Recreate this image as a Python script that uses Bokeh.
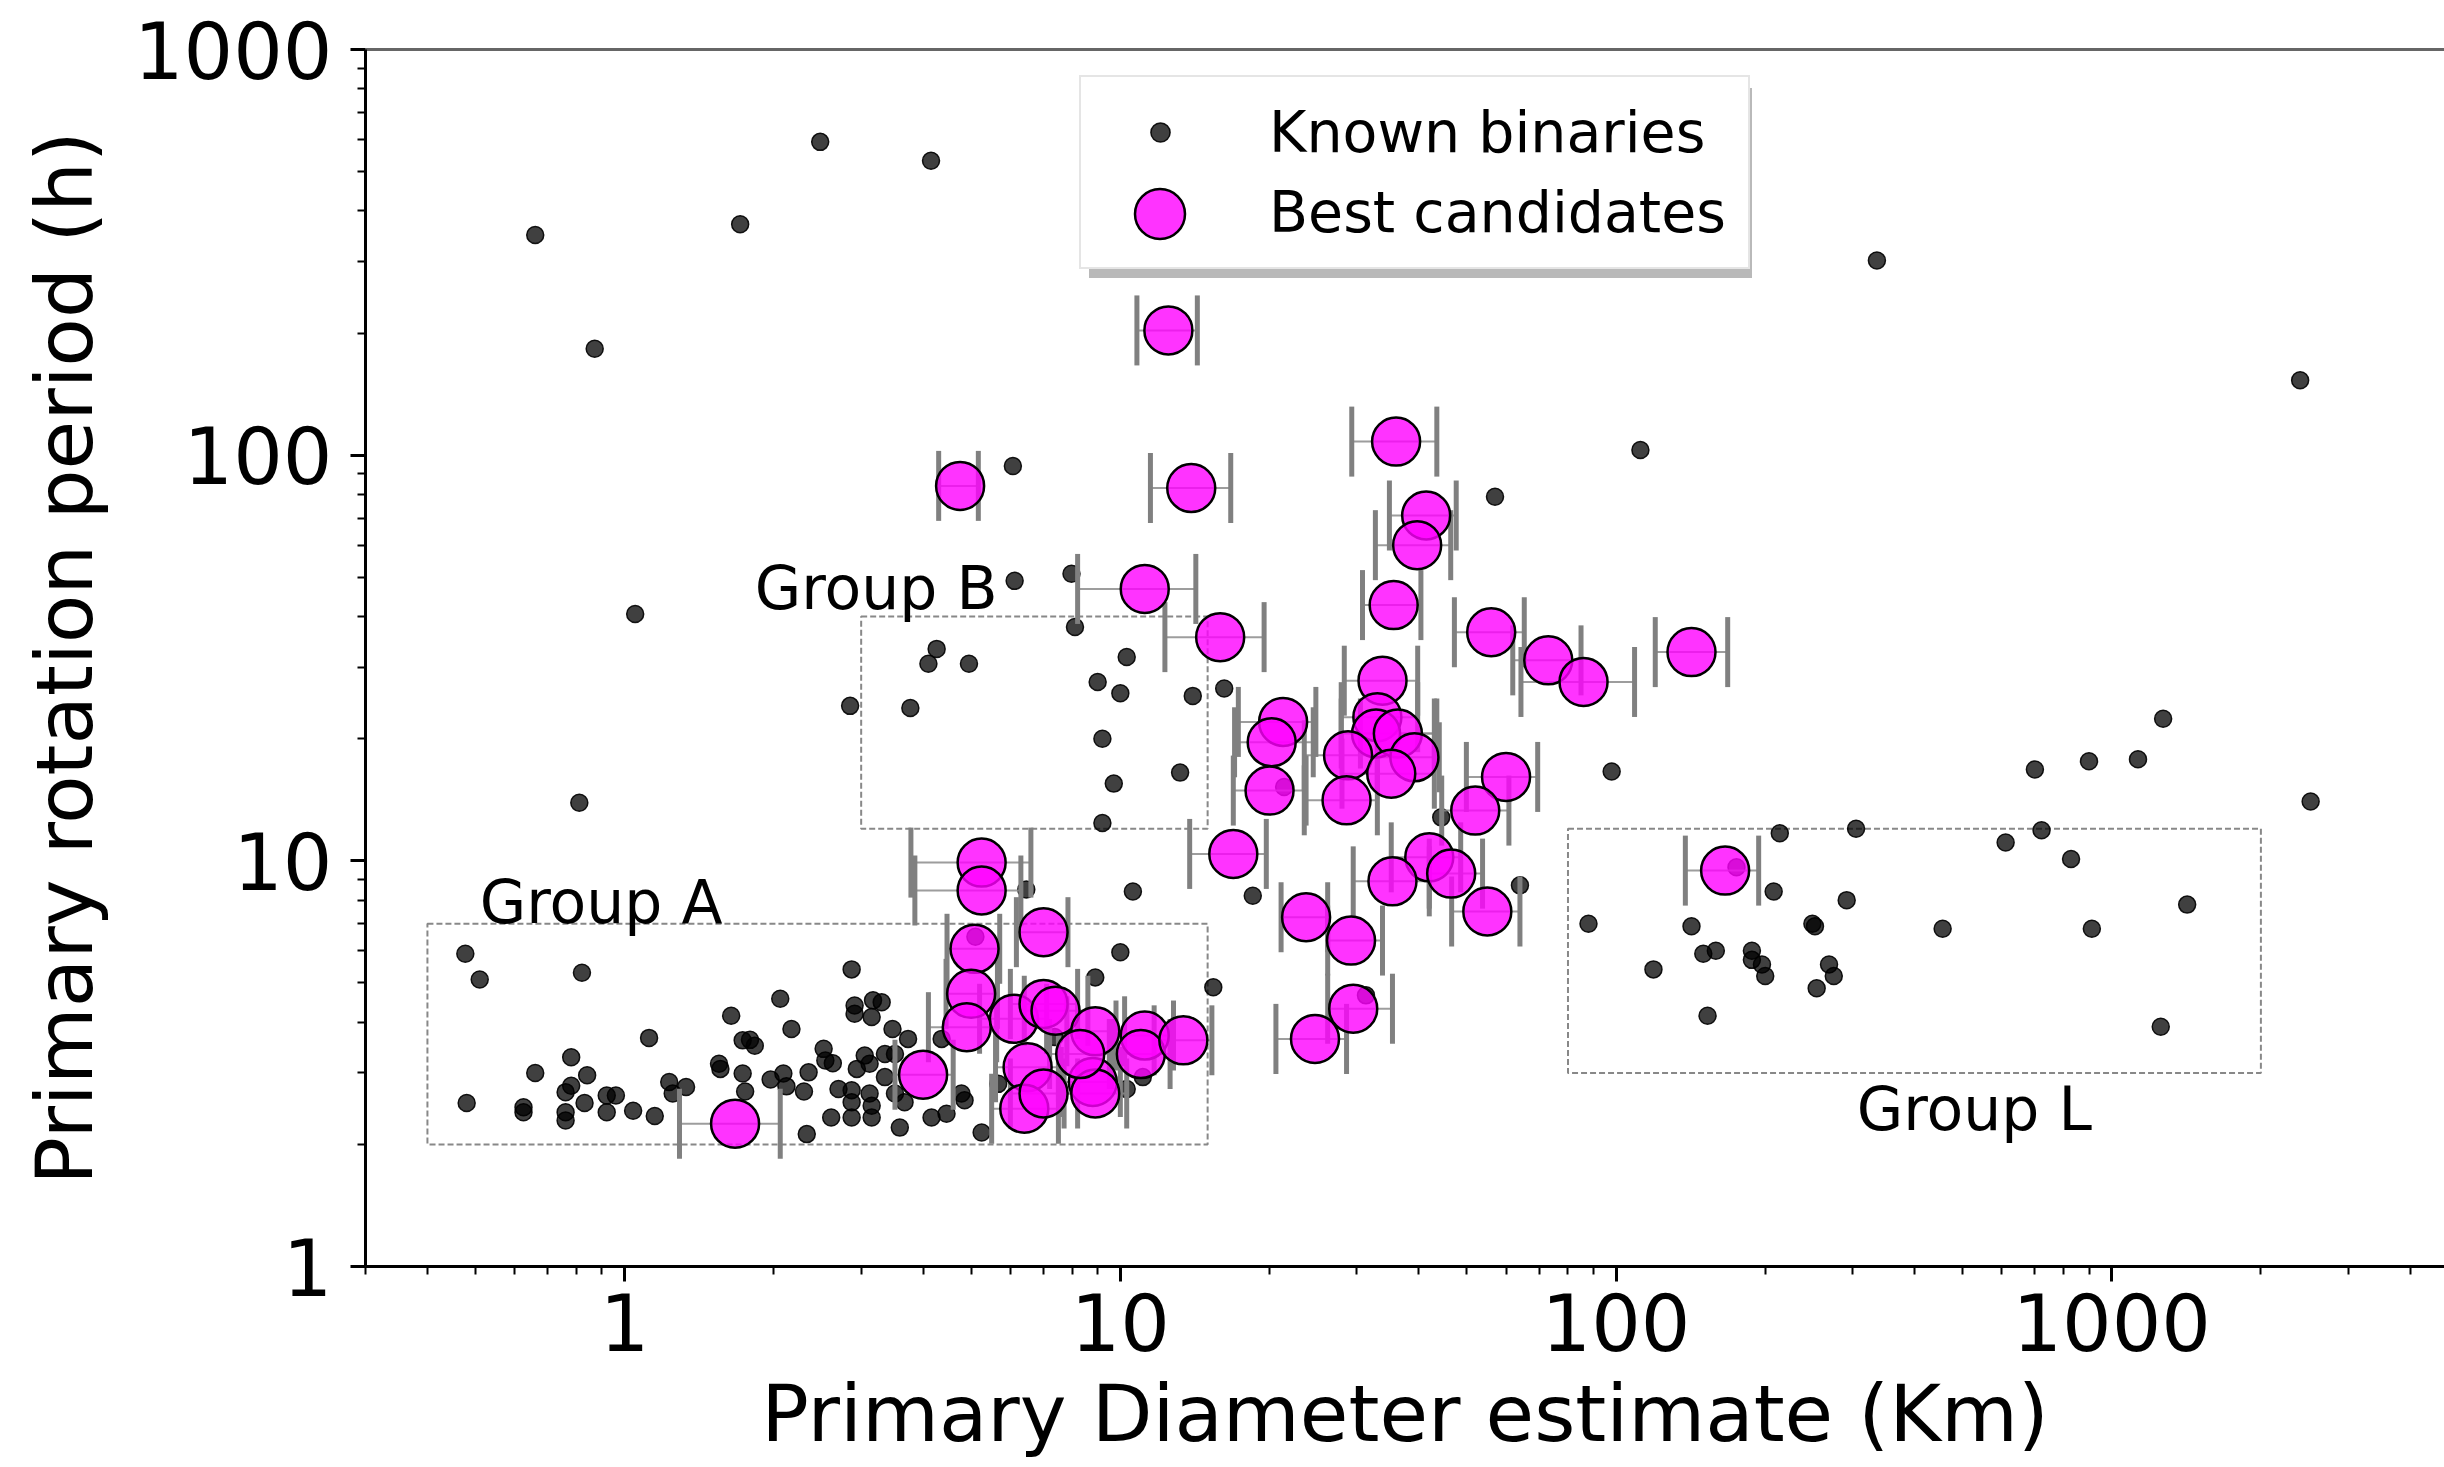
import numpy as np
from bokeh.plotting import figure
from bokeh.models import (Range1d, FixedTicker, PrintfTickFormatter, Legend, LegendItem,
                          LogAxis)
from bokeh.core.properties import value
from bokeh.embed import file_html
from bokeh.resources import INLINE

FONT = "DejaVu Sans"

# ---------------- data ----------------
# Known binaries: primary diameter (km) and rotation period (h)
known_D = [
    # scattered / upper
    0.66, 1.71, 2.48, 4.15, 0.87, 1.05, 0.81, 6.07, 6.12, 7.97, 57, 112, 2400, 336, 98, 64, 44.4,
    31.3, 21.4, 5.1, 175,
    # group B region
    2.85, 3.77, 4.26, 4.10, 4.95, 8.1, 10.3, 9.0, 10.0, 14.0, 16.2, 9.2, 9.7, 13.2, 9.2,
    # between groups
    6.46, 10.6, 18.5, 10.0, 8.9, 15.4,
    # group L region
    1270, 700, 900, 1130, 2520, 214, 305, 722, 611, 828, 208, 292, 1420, 88, 142, 249, 252, 456,
    912, 150, 159, 188, 188, 197, 200, 119, 269, 275, 254, 153, 1256,
    # group A region
    0.477, 0.51, 0.82, 0.48, 0.625, 0.625, 0.66, 0.78, 0.84, 0.78, 0.76, 0.83, 0.76, 0.76, 0.92,
    0.96, 0.92, 1.04, 1.12, 1.15, 1.23, 1.33, 1.25, 1.64, 1.55, 1.56, 1.73, 1.79, 1.83, 1.73,
    1.75, 2.06, 2.17, 1.97, 2.09, 2.12, 2.33, 2.30, 2.35, 2.52, 2.54, 2.63, 2.61, 2.70, 2.87,
    2.91, 2.91, 3.17, 3.15, 3.05, 2.94, 3.12, 2.87, 2.87, 3.12, 3.15, 2.87, 3.15, 3.47, 3.73,
    3.35, 3.51, 3.35, 3.51, 3.59, 3.67, 4.36, 3.30, 4.16, 4.46, 5.25, 4.78, 4.85, 5.67, 7.37,
    11.1, 10.3,
]
known_P = [
    349, 371, 592, 532, 183, 40.6, 13.9, 94, 49, 51, 79, 103, 153, 302, 16.6, 8.7, 12.8,
    4.66, 15.2, 6.5, 9.64,
    24.1, 23.8, 33.3, 30.6, 30.6, 37.7, 31.8, 27.6, 25.9, 25.5, 26.6, 20.0, 15.5, 16.5, 12.4,
    8.5, 8.4, 8.2, 5.95, 5.16, 4.88,
    22.4, 16.8, 17.6, 17.8, 14.0, 11.7, 12.0, 11.9, 11.1, 10.1, 8.4, 8.0, 7.8, 7.0, 6.9, 7.0, 6.9,
    6.8, 6.8, 5.9, 6.0, 6.0, 5.7, 5.55, 5.2, 5.4, 5.55, 5.2, 4.85, 4.15, 3.9,
    5.9, 5.1, 5.3, 2.53, 2.47, 2.40, 3.0, 3.28, 2.96, 2.79, 2.69, 2.53, 2.40, 2.29, 2.64,
    2.64, 2.40, 2.42, 3.66, 2.35, 2.85, 2.77, 2.67, 4.15, 3.16, 3.07, 3.61, 3.62, 3.5, 2.99,
    2.70, 4.57, 3.85, 2.89, 2.99, 2.78, 2.12, 2.70, 3.01, 3.44, 3.22, 3.17, 2.33, 2.74, 5.4,
    4.4, 4.2, 4.53, 4.12, 3.31, 3.07, 3.16, 2.72, 2.54, 2.67, 2.49, 2.33, 2.33, 3.85, 3.64,
    3.34, 3.34, 2.93, 2.67, 2.20, 2.54, 3.64, 4.48, 2.33, 2.38, 2.14, 2.67, 2.57, 2.82, 3.68,
    2.93, 2.74,
]

# Best candidates: diameter estimate, period, and diameter range (error bar ends)
cand_D = [12.5, 4.75, 13.9, 36, 41.4, 39.7, 11.2, 15.9, 35.6, 56, 73, 86, 142, 33.8, 33.0,
          32.8, 36.3, 39.2, 28.8, 35.2, 21.3, 20.2, 20.0, 28.6, 60, 52, 16.9, 42, 46.5, 35.4,
          55, 23.7, 29.2, 29.5, 24.7, 166, 5.25, 5.25, 5.08, 7.0, 5.0, 4.9, 6.1, 7.0, 7.4,
          4.0, 6.5, 6.4, 7.0, 8.9, 8.8, 8.9, 8.3, 11.2, 11.0, 13.4, 1.67]
cand_P = [203, 84, 83, 108, 71, 60, 46.8, 35.6, 42.7, 36.6, 31.2, 27.6, 32.7, 27.8, 22.6,
          20.6, 20.6, 18.0, 18.2, 16.4, 22.0, 19.6, 14.9, 14.1, 16.1, 13.3, 10.4, 10.2, 9.3, 8.9,
          7.5, 7.26, 6.36, 4.32, 3.64, 9.46, 9.9, 8.45, 6.07, 6.67, 4.7, 3.89, 4.08, 4.44, 4.27,
          2.97, 3.1, 2.45, 2.67, 3.8, 2.85, 2.67, 3.34, 3.71, 3.34, 3.61, 2.25]
cand_Dlo = [10.8, 4.30, 11.5, 29.3, 34.9, 32.7, 8.2, 12.3, 30.8, 47.2, 61.9, 64.3, 120, 28.3, 27.9,
            27.9, 30.5, 33.0, 23.5, 28.0, 17.3, 17.0, 16.9, 23.5, 49.9, 44.5, 13.8, 35.2, 42.0, 29.5,
            46.6, 21.1, 26.2, 26.2, 20.6, 138, 3.78, 3.85, 4.47, 6.17, 4.45, 4.1, 5.2, 6.0, 6.4,
            3.51, 5.6, 5.5, 6.0, 7.8, 7.6, 7.7, 7.2, 9.8, 9.5, 11.7, 1.29]
cand_Dhi = [14.3, 5.17, 16.7, 43.5, 47.6, 46.4, 14.2, 19.5, 40.4, 65.3, 85, 109, 168, 39.8, 39.8,
            43.0, 43.5, 44.0, 33.0, 43.0, 24.8, 24.5, 23.7, 33.0, 69.5, 60.8, 19.7, 48.6, 53.8, 42.0,
            64, 26.2, 33.8, 35.4, 28.6, 194, 6.6, 6.3, 5.71, 7.84, 5.65, 5.63, 7.1, 8.2, 8.6,
            4.6, 7.5, 7.5, 8.2, 10.2, 10.0, 10.3, 9.6, 12.8, 12.6, 15.3, 2.06]

# Group regions (diameter / period bounds) and their labels
group_names = ["Group A", "Group B", "Group L"]
group_D0 = [0.4, 3, 80]
group_D1 = [15, 15, 2000]
group_P0 = [2, 12, 3]
group_P1 = [7, 40, 12]
group_label_D = [0.51, 1.83, 306]
group_label_P = [7.9, 47.0, 2.45]

# Axis ticks
x_major = [1, 10, 100, 1000]
x_minor = [0.3, 0.4, 0.5, 0.6, 0.7, 0.8, 0.9, 2, 3, 4, 5, 6, 7, 8, 9, 20, 30, 40, 50, 60, 70, 80, 90,
           200, 300, 400, 500, 600, 700, 800, 900, 2000, 3000, 4000]
y_major = [1, 10, 100, 1000]
y_minor = [2, 3, 4, 5, 6, 7, 8, 9, 20, 30, 40, 50, 60, 70, 80, 90, 200, 300, 400, 500, 600, 700, 800, 900]

# ---------------- figure ----------------
p = figure(width=2444, height=1467, x_axis_type="log", y_axis_type="log",
           x_range=Range1d(0.3, 4693), y_range=Range1d(1, 1000),
           output_backend="svg", toolbar_location=None,
           min_border_left=365, min_border_right=0, min_border_top=49, min_border_bottom=201,
           background_fill_color="white", border_fill_color="white", outline_line_color=None)
p.grid.visible = False

p.xaxis.axis_label = "Primary Diameter estimate (Km)"
p.yaxis.axis_label = "Primary rotation period (h)"
p.xaxis.ticker = FixedTicker(ticks=x_major, minor_ticks=x_minor)
p.yaxis.ticker = FixedTicker(ticks=y_major, minor_ticks=y_minor)
p.xaxis.formatter = PrintfTickFormatter(format="%d")
p.yaxis.formatter = PrintfTickFormatter(format="%d")

for ax in (p.xaxis[0], p.yaxis[0]):
    ax.axis_line_color = "black"
    ax.axis_line_width = 3
    ax.major_tick_line_color = "black"
    ax.major_tick_line_width = 3
    ax.major_tick_out = 15
    ax.major_tick_in = 0
    ax.minor_tick_line_color = "black"
    ax.minor_tick_line_width = 2
    ax.minor_tick_out = 8
    ax.minor_tick_in = 0
    ax.major_label_text_font = FONT
    ax.major_label_text_font_size = "78px"
    ax.major_label_text_color = "black"
    ax.axis_label_text_font = FONT
    ax.axis_label_text_font_size = "79px"
    ax.axis_label_text_font_style = "normal"
    ax.axis_label_text_color = "black"

p.xaxis.major_label_standoff = 11
p.xaxis.axis_label_standoff = 14
p.yaxis.major_label_standoff = 18
p.yaxis.axis_label_standoff = 20

top_axis = LogAxis(ticker=FixedTicker(ticks=[]), axis_line_color="#666666", axis_line_width=3,
                   major_tick_line_color=None, minor_tick_line_color=None)
p.add_layout(top_axis, "above")

# group boxes
p.quad(left=group_D0, right=group_D1, bottom=group_P0, top=group_P1,
       fill_color=None, line_color="#888888", line_width=2, line_dash="6 3")
p.text(x=group_label_D, y=group_label_P, text=group_names, text_font=value(FONT),
       text_font_size="60px", text_color="black", text_align="left", text_baseline="alphabetic")

# known binaries
r_known = p.scatter(known_D, known_P, size=17, fill_color="black", fill_alpha=0.75,
                    line_color="black", line_alpha=0.9, line_width=1.5)

# candidate error bars
p.segment(x0=cand_Dlo, y0=cand_P, x1=cand_Dhi, y1=cand_P, line_color="#8c8c8c",
          line_width=2, line_alpha=0.85)
p.scatter(cand_Dlo, cand_P, marker="dash", angle=np.pi / 2, size=70,
          line_color="#808080", line_width=5)
p.scatter(cand_Dhi, cand_P, marker="dash", angle=np.pi / 2, size=70,
          line_color="#808080", line_width=5)

# best candidates
r_cand = p.scatter(cand_D, cand_P, size=48, fill_color="#ff00ff", fill_alpha=0.8,
                   line_color="black", line_width=2.5)

# invisible renderer used as placeholder in legend rows
r_inv = p.scatter(x=[], y=[], size=1, fill_alpha=0, line_alpha=0)

# legend shadow
leg_shadow = Legend(items=[LegendItem(label=" ", renderers=[r_inv])], location=(724, 988),
                    glyph_width=663, glyph_height=190, padding=0, margin=0, spacing=0,
                    label_standoff=0, label_width=0, label_height=0,
                    label_text_font_size="1px", border_line_color=None,
                    background_fill_color="#8a8a8a", background_fill_alpha=0.6)
p.add_layout(leg_shadow)

legA = Legend(items=[LegendItem(label="Known binaries", renderers=[r_known]),
                     LegendItem(label="Best candidates", renderers=[r_inv])],
              location=(714, 997), orientation="vertical",
              glyph_width=114, glyph_height=48, label_standoff=52, padding=22, spacing=14,
              margin=0, label_text_font=FONT, label_text_font_size="57px",
              label_text_color="black",
              border_line_color="#cccccc", border_line_width=2,
              background_fill_color="white", background_fill_alpha=1.0)
p.add_layout(legA)

legB = Legend(items=[LegendItem(label=" ", renderers=[r_cand])], location=(731.5, 990.5),
              glyph_width=125, glyph_height=125, padding=0, margin=0, spacing=0,
              label_standoff=0, label_width=0, label_height=0, label_text_font_size="1px",
              border_line_color=None, background_fill_alpha=0)
p.add_layout(legB)

open("out.html", "w").write(file_html(p, INLINE))
